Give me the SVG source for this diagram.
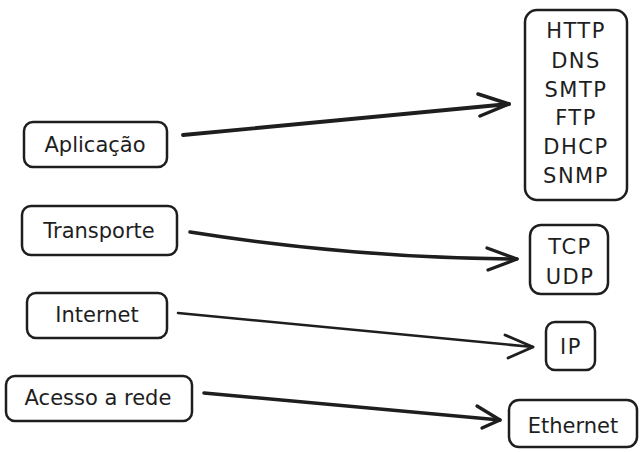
<svg xmlns="http://www.w3.org/2000/svg" width="642" height="452" viewBox="0 0 642 452">
<style>
.box{fill:#ffffff;stroke:#1e1e1e;stroke-width:2.5}
.lbl{font-family:"DejaVu Sans","Liberation Sans",sans-serif;font-size:21px;fill:#1e1e1e;text-anchor:middle}
.caps{letter-spacing:1.5px}
.edge{fill:none;stroke:#1e1e1e;stroke-linecap:round;stroke-linejoin:round}
</style>
<rect width="642" height="452" fill="#ffffff"/>
<g id="node-aplicacao"><rect class="box" x="24" y="122" width="143" height="45" rx="9"/><text class="lbl" x="95" y="152">Aplicação</text></g>
<g id="node-transporte"><rect class="box" x="22" y="206" width="155" height="49" rx="9"/><text class="lbl" x="99" y="238">Transporte</text></g>
<g id="node-internet"><rect class="box" x="27" y="293" width="140" height="45" rx="9"/><text class="lbl" x="97" y="322">Internet</text></g>
<g id="node-acesso"><rect class="box" x="6" y="376" width="186" height="45" rx="9"/><text class="lbl" x="98" y="405">Acesso a rede</text></g>
<g id="node-app-protocols"><rect class="box" x="525" y="10" width="102" height="190" rx="12"/>
<text class="lbl caps" x="576" y="38">HTTP</text>
<text class="lbl caps" x="576" y="68">DNS</text>
<text class="lbl caps" x="576" y="97">SMTP</text>
<text class="lbl caps" x="576" y="125">FTP</text>
<text class="lbl caps" x="576" y="154">DHCP</text>
<text class="lbl caps" x="576" y="183">SNMP</text></g>
<g id="node-tcp-udp"><rect class="box" x="530" y="225" width="78" height="69" rx="11"/>
<text class="lbl caps" x="570" y="254">TCP</text>
<text class="lbl caps" x="570" y="284">UDP</text></g>
<g id="node-ip"><rect class="box" x="546" y="322" width="49" height="48" rx="9"/><text class="lbl caps" x="571" y="354">IP</text></g>
<g id="node-ethernet"><rect class="box" x="509" y="400" width="128" height="47" rx="10"/><text class="lbl" x="573" y="433">Ethernet</text></g>
<g id="connectors">
<path class="edge" stroke-width="3.8" d="M183 135 L509 104"/>
<path class="edge" stroke-width="3.5" d="M478 94 L509 104 L480 116"/>
<path class="edge" stroke-width="3.5" d="M190 232 Q354 258 517 259"/>
<path class="edge" stroke-width="3.3" d="M487 248 L517 259 L488 270"/>
<path class="edge" stroke-width="2.6" d="M178 313 L533 347"/>
<path class="edge" stroke-width="2.8" d="M505 335 L533 347 L508 358"/>
<path class="edge" stroke-width="3.5" d="M204 393 L500 420"/>
<path class="edge" stroke-width="3.3" d="M477 406 L500 420 L482 428"/>
</g>
</svg>
